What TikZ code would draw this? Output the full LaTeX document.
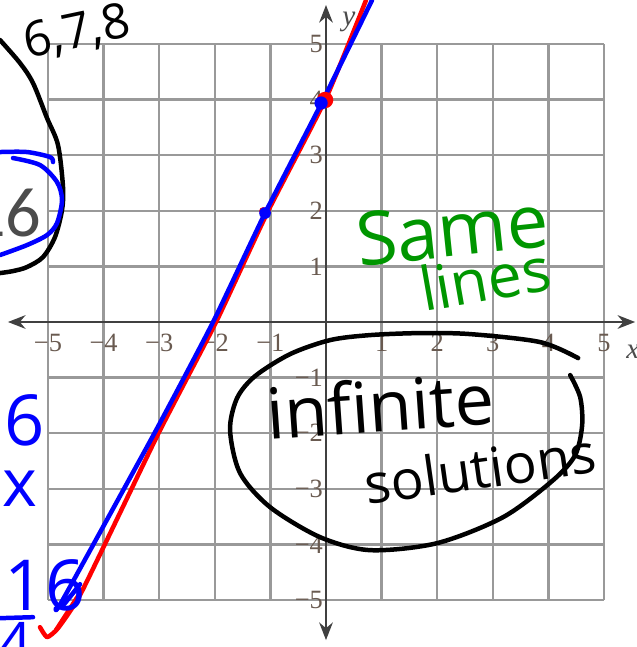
\documentclass[tikz,border=0pt]{standalone}
\usepackage{fontspec}
\setmainfont{Liberation Serif}
\newfontfamily\handfont{Open Sans}
\newfontfamily\notefont{Carlito}
\usetikzlibrary{arrows.meta}

\definecolor{penblue}{RGB}{0,0,255}
\definecolor{penred}{RGB}{255,0,0}
\definecolor{pengreen}{RGB}{0,150,0}
\definecolor{ticktext}{RGB}{105,90,80}

\begin{document}
\begin{tikzpicture}[
    gridline/.style={draw=black!40, line width=1.3pt},
    axisline/.style={draw=black!75, line width=1pt, {Stealth[length=9pt,width=7pt]}-{Stealth[length=9pt,width=7pt]}},
    tick/.style={font=\fontsize{13.5}{13.5}\selectfont, text=ticktext, inner sep=0pt},
    ink/.style={line width=2.3pt, line cap=round, line join=round},
    hand/.style={font=\handfont\fontsize{#1}{#1}\selectfont, inner sep=0pt},
    note/.style={font=\notefont\fontsize{#1}{#1}\selectfont, inner sep=0pt},
  ]
  \useasboundingbox (-5.863,-5.845) rectangle (5.576,5.791);

  % grid and axes
  \draw[gridline] (-5,-5) grid (5,5);
  \coordinate (xl) at (-5.72,0);
  \coordinate (xr) at (5.56,0);
  \coordinate (yb) at (0,-5.72);
  \coordinate (yt) at (0,5.70);
  \draw[axisline] (xl) -- (xr);
  \draw[axisline] (yb) -- (yt);
  \foreach \n in {1,...,5} {
    \node[tick] (xp\n) at (\n,-0.38) {\n};
    \node[tick] (xn\n) at (-\n,-0.38) {−\n};
    \node[tick, anchor=east] (yp\n) at (-0.05,\n) {\n};
    \node[tick, anchor=east] (yn\n) at (-0.05,-\n) {−\n};
  }
  \node[font=\itshape\fontsize{15}{15}\selectfont, text=black!70] (ylab) at (0.41,5.40) {y};
  \node[font=\itshape\fontsize{15}{15}\selectfont, text=black!70] (xlab) at (5.52,-0.54) {x};

  % pen marks, in pixels from the top left corner
  \begin{scope}[shift={(-5.863,5.791)}, x=0.017986cm, y=-0.017986cm]
    \draw[ink, penred] plot[smooth, tension=0.3] coordinates {(366,0) (326,98) (268,211) (216,322) (158,434) (82,591) (58,628) (47,637) (40,627)};
    \draw[ink, penred] (56,630) -- (78,596);
    \draw[ink, penblue] plot[smooth, tension=0.3] coordinates {(372,0) (322,102) (265,213) (213,322) (155,432) (62,601) (56,608) (64,604) (80,584)};
    \fill[penred] (325,100) circle[radius=4.2pt];
    \fill[penred] (263,211) circle[radius=2pt];
    \fill[penblue] (321,103) circle[radius=3.4pt];
    \fill[penblue] (265,213) circle[radius=3pt];

    % left margin
    \draw[ink, black] plot[smooth] coordinates {(0,40) (20,63) (33,83) (47,118) (58,145) (63,187) (62,210) (55,237) (43,257) (27,267) (13,271) (0,273)};
    \node[note=36, text=black!70, anchor=east] (prob) at (42,213) {16};
    \draw[ink, penblue] plot[smooth] coordinates {(0,152) (27,152) (50,157) (53,162)};
    \draw[ink, penblue] plot[smooth] coordinates {(13,158) (40,165) (57,182) (62,200) (57,223) (47,235) (27,245) (0,255)};
    \node[hand=25, rotate=12] (nums) at (77,33) {6,7,8};
    \node[hand=36, text=penblue] (six) at (25,420) {6};
    \node[hand=34, text=penblue, anchor=east] (threex) at (38,483) {3x};
    \node[hand=36, text=penblue] (sixteen) at (45,585) {16};
    \draw[ink, penblue] (0,618) -- (33,617);
    \node[hand=30, text=penblue] (four) at (15,643) {4};

    % notes on the right
    \node[hand=38, text=pengreen, rotate=6] (same) at (452,230) {Same};
    \node[hand=31, text=pengreen, rotate=10] (lines) at (485,278) {lines};
    \node[hand=36, rotate=4] (inf) at (380,405) {infinite};
    \node[hand=28, rotate=8] (sol) at (480,468) {solutions};
    \draw[ink, black] plot[smooth] coordinates {(578,358) (540,342) (470,334) (420,333) (370,335) (330,340) (290,354) (255,376) (237,398) (230,430) (240,473) (270,507) (320,537) (370,550) (437,543) (503,517) (553,480) (575,455) (582,425) (580,397) (570,375)};
  \end{scope}
\end{tikzpicture}
\end{document}
